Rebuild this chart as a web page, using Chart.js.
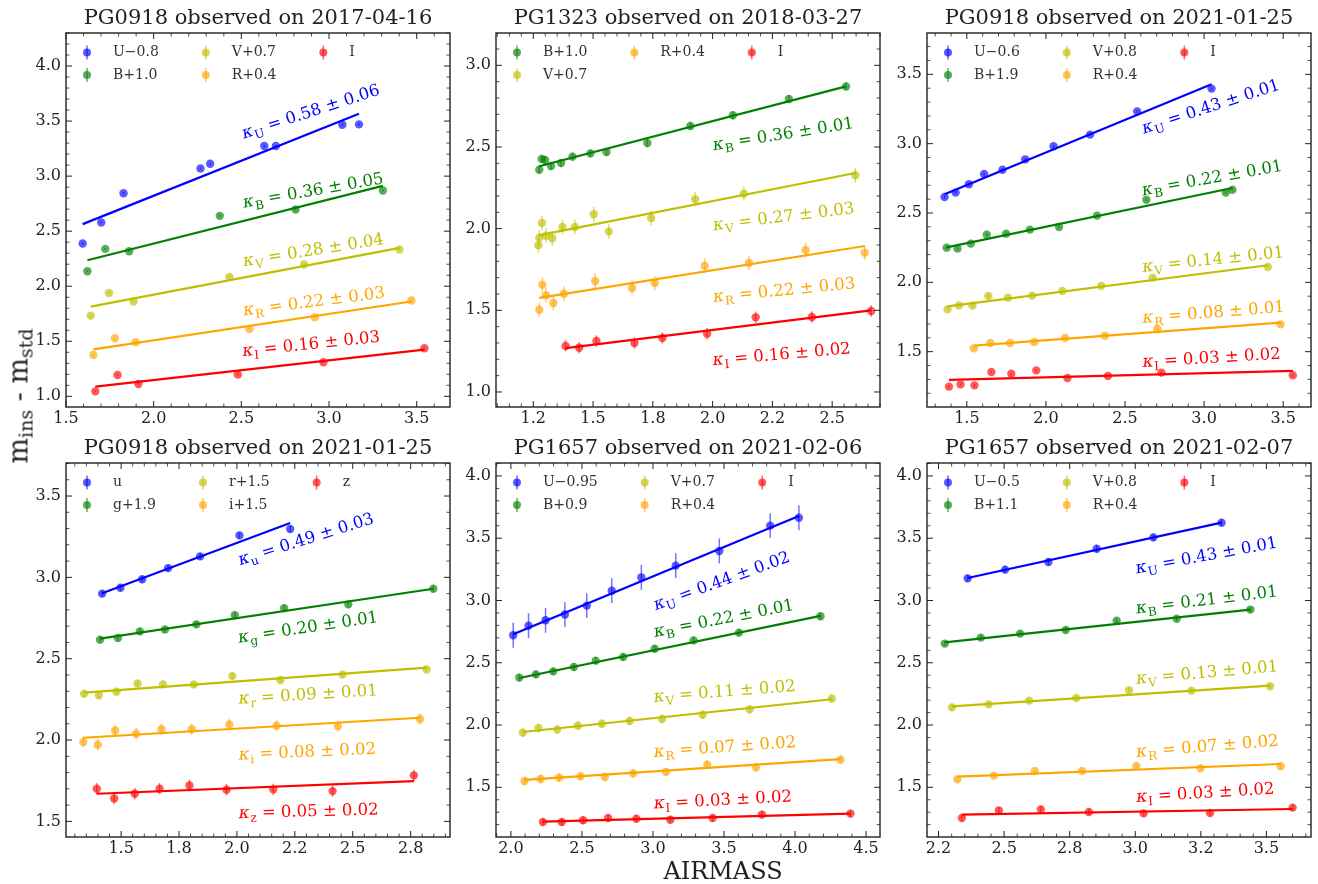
<!DOCTYPE html>
<html>
<head>
<meta charset="utf-8">
<script src="https://cdn.jsdelivr.net/npm/chart.js@4.4.1/dist/chart.umd.min.js"></script>
<style>
  html, body { margin: 0; padding: 0; background: #fff; }
  #fig { position: relative; width: 1318px; height: 884px; overflow: hidden; background: #fff; }
  #fig canvas { position: absolute; }
  .axlab { position: absolute; font-family: "DejaVu Serif", serif; color: #222; white-space: nowrap; line-height: 1; }
  #xlab { left: 723px; top: 859px; font-size: 24px; transform: translateX(-50%); }
  #ylab { left: 18px; top: 396px; font-size: 27px; transform: translate(-50%, -50%) rotate(-90deg); }
  #ylab sub { font-size: 19px; vertical-align: -5px; line-height: 0; }
</style>
</head>
<body>
<div id="fig">
  <canvas id="p1" width="454" height="446"></canvas>
  <canvas id="p2" width="454" height="446"></canvas>
  <canvas id="p3" width="454" height="446"></canvas>
  <canvas id="p4" width="454" height="446"></canvas>
  <canvas id="p5" width="454" height="446"></canvas>
  <canvas id="p6" width="454" height="446"></canvas>
  <div class="axlab" id="xlab">AIRMASS</div>
  <div class="axlab" id="ylab">m<sub>ins</sub> - m<sub>std</sub></div>
</div>
<script>
// ── panel 1: PG0918, 2017-04-16 ──
const P1_TITLE  = 'PG0918 observed on 2017-04-16';
const P1_BANDS  = ['U', 'B', 'V', 'R', 'I'];
const P1_LABELS = ['U−0.8', 'B+1.0', 'V+0.7', 'R+0.4', 'I'];
const P1_KAPPA  = ['0.58 ± 0.06', '0.36 ± 0.05', '0.28 ± 0.04', '0.22 ± 0.03', '0.16 ± 0.03'];
const P1_ERR    = [0.01, 0.01, 0.01, 0.01, 0.01];
const P1_XLIM   = [1.5, 3.69];
const P1_YLIM   = [0.903, 4.3];
const P1_XTICKS = [1.5, 2.0, 2.5, 3.0, 3.5];
const P1_XTICK_LABELS = ['1.5', '2.0', '2.5', '3.0', '3.5'];
const P1_YTICKS = [1.0, 1.5, 2.0, 2.5, 3.0, 3.5, 4.0];
const P1_U_X = [1.595, 1.701, 1.828, 2.267, 2.322, 2.631, 2.697, 3.076, 3.171];
const P1_U_Y = [2.388, 2.579, 2.845, 3.070, 3.112, 3.273, 3.273, 3.467, 3.470];
const P1_U_FIT = [2.564, 3.567];
const P1_B_X = [1.622, 1.724, 1.860, 2.377, 2.809, 3.307];
const P1_B_Y = [2.136, 2.339, 2.318, 2.639, 2.697, 2.870];
const P1_B_FIT = [2.236, 2.912];
const P1_V_X = [1.641, 1.745, 1.885, 2.432, 2.858, 3.402];
const P1_V_Y = [1.733, 1.939, 1.861, 2.085, 2.197, 2.333];
const P1_V_FIT = [1.815, 2.348];
const P1_R_X = [1.656, 1.779, 1.898, 2.546, 2.919, 3.470];
const P1_R_Y = [1.376, 1.527, 1.491, 1.612, 1.718, 1.870];
const P1_R_FIT = [1.427, 1.861];
const P1_I_X = [1.667, 1.794, 1.913, 2.480, 2.968, 3.544];
const P1_I_Y = [1.045, 1.194, 1.112, 1.197, 1.309, 1.436];
const P1_I_FIT = [1.088, 1.424];

// ── panel 2: PG1323, 2018-03-27 ──
const P2_TITLE  = 'PG1323 observed on 2018-03-27';
const P2_BANDS  = ['B', 'V', 'R', 'I'];
const P2_LABELS = ['B+1.0', 'V+0.7', 'R+0.4', 'I'];
const P2_KAPPA  = ['0.36 ± 0.01', '0.27 ± 0.03', '0.22 ± 0.03', '0.16 ± 0.02'];
const P2_ERR    = [0.025, 0.045, 0.045, 0.035];
const P2_XLIM   = [1.094, 2.700];
const P2_YLIM   = [0.908, 3.198];
const P2_XTICKS = [1.25, 1.5, 1.75, 2.0, 2.25, 2.5];
const P2_XTICK_LABELS = ['1.2', '1.5', '1.8', '2.0', '2.2', '2.5'];
const P2_YTICKS = [1.0, 1.5, 2.0, 2.5, 3.0];
const P2_B_X = [1.275, 1.285, 1.299, 1.324, 1.366, 1.414, 1.489, 1.556, 1.727, 1.907, 2.085, 2.319, 2.558];
const P2_B_Y = [2.361, 2.427, 2.420, 2.384, 2.402, 2.441, 2.461, 2.469, 2.524, 2.629, 2.694, 2.794, 2.871];
const P2_B_FIT = [2.382, 2.871];
const P2_V_X = [1.271, 1.275, 1.286, 1.303, 1.329, 1.372, 1.424, 1.503, 1.566, 1.743, 1.927, 2.131, 2.597];
const P2_V_Y = [1.898, 1.945, 2.035, 1.957, 1.941, 2.010, 2.010, 2.088, 1.982, 2.065, 2.180, 2.214, 2.327];
const P2_V_FIT = [1.959, 2.341];
const P2_R_X = [1.275, 1.288, 1.303, 1.334, 1.378, 1.509, 1.663, 1.758, 1.967, 2.152, 2.389, 2.636];
const P2_R_Y = [1.504, 1.657, 1.592, 1.545, 1.602, 1.680, 1.637, 1.667, 1.773, 1.790, 1.869, 1.853];
const P2_R_FIT = [1.576, 1.894];
const P2_I_X = [1.385, 1.442, 1.514, 1.673, 1.790, 1.977, 2.180, 2.415, 2.663];
const P2_I_Y = [1.282, 1.271, 1.312, 1.300, 1.331, 1.357, 1.457, 1.459, 1.496];
const P2_I_FIT = [1.269, 1.500];

// ── panel 3: PG0918, 2021-01-25 (UBVRI) ──
const P3_TITLE  = 'PG0918 observed on 2021-01-25';
const P3_BANDS  = ['U', 'B', 'V', 'R', 'I'];
const P3_LABELS = ['U−0.6', 'B+1.9', 'V+0.8', 'R+0.4', 'I'];
const P3_KAPPA  = ['0.43 ± 0.01', '0.22 ± 0.01', '0.14 ± 0.01', '0.08 ± 0.01', '0.03 ± 0.02'];
const P3_ERR    = [0.01, 0.01, 0.01, 0.01, 0.01];
const P3_XLIM   = [1.248, 3.676];
const P3_YLIM   = [1.101, 3.798];
const P3_XTICKS = [1.5, 2.0, 2.5, 3.0, 3.5];
const P3_XTICK_LABELS = ['1.5', '2.0', '2.5', '3.0', '3.5'];
const P3_YTICKS = [1.5, 2.0, 2.5, 3.0, 3.5];
const P3_U_X = [1.359, 1.429, 1.513, 1.609, 1.725, 1.869, 2.048, 2.279, 2.577, 3.047];
const P3_U_Y = [2.615, 2.647, 2.707, 2.781, 2.812, 2.887, 2.981, 3.065, 3.233, 3.397];
const P3_U_FIT = [2.635, 3.428];
const P3_B_X = [1.372, 1.441, 1.525, 1.626, 1.748, 1.899, 2.083, 2.323, 2.635, 3.137, 3.179];
const P3_B_Y = [2.250, 2.243, 2.279, 2.344, 2.351, 2.380, 2.399, 2.481, 2.596, 2.647, 2.668];
const P3_B_FIT = [2.252, 2.680];
const P3_V_X = [1.378, 1.450, 1.536, 1.636, 1.760, 1.913, 2.104, 2.350, 2.675, 3.403];
const P3_V_Y = [1.805, 1.834, 1.832, 1.901, 1.889, 1.904, 1.937, 1.974, 2.034, 2.111];
const P3_V_FIT = [1.827, 2.123];
const P3_R_X = [1.544, 1.649, 1.773, 1.926, 2.121, 2.373, 2.705, 3.483];
const P3_R_Y = [1.524, 1.562, 1.562, 1.570, 1.599, 1.615, 1.663, 1.697];
const P3_R_FIT = [1.543, 1.709];
const P3_I_X = [1.387, 1.460, 1.548, 1.655, 1.781, 1.939, 2.136, 2.392, 2.730, 3.561];
const P3_I_Y = [1.248, 1.264, 1.257, 1.353, 1.341, 1.365, 1.310, 1.325, 1.349, 1.329];
const P3_I_FIT = [1.296, 1.361];

// ── panel 4: PG0918, 2021-01-25 (ugriz) ──
const P4_TITLE  = 'PG0918 observed on 2021-01-25';
const P4_BANDS  = ['u', 'g', 'r', 'i', 'z'];
const P4_LABELS = ['u', 'g+1.9', 'r+1.5', 'i+1.5', 'z'];
const P4_KAPPA  = ['0.49 ± 0.03', '0.20 ± 0.01', '0.09 ± 0.01', '0.08 ± 0.02', '0.05 ± 0.02'];
const P4_ERR    = [0.02, 0.02, 0.02, 0.035, 0.035];
const P4_XLIM   = [1.262, 2.920];
const P4_YLIM   = [1.404, 3.703];
const P4_XTICKS = [1.5, 1.75, 2.0, 2.25, 2.5, 2.75];
const P4_XTICK_LABELS = ['1.5', '1.8', '2.0', '2.2', '2.5', '2.8'];
const P4_YTICKS = [1.5, 2.0, 2.5, 3.0, 3.5];
const P4_U_X = [1.418, 1.497, 1.591, 1.703, 1.841, 2.011, 2.230];
const P4_U_Y = [2.900, 2.936, 2.988, 3.057, 3.129, 3.258, 3.297];
const P4_U_FIT = [2.902, 3.334];
const P4_G_X = [1.409, 1.486, 1.581, 1.689, 1.825, 1.991, 2.204, 2.481, 2.848];
const P4_G_Y = [2.617, 2.627, 2.668, 2.680, 2.711, 2.768, 2.811, 2.834, 2.930];
const P4_G_FIT = [2.623, 2.930];
const P4_R_X = [1.340, 1.404, 1.480, 1.571, 1.681, 1.814, 1.980, 2.188, 2.456, 2.819];
const P4_R_Y = [2.285, 2.275, 2.297, 2.348, 2.342, 2.342, 2.393, 2.369, 2.402, 2.434];
const P4_R_FIT = [2.291, 2.445];
const P4_I_X = [1.337, 1.399, 1.474, 1.565, 1.674, 1.805, 1.967, 2.171, 2.436, 2.790];
const P4_I_Y = [1.988, 1.971, 2.059, 2.039, 2.066, 2.066, 2.096, 2.088, 2.084, 2.129];
const P4_I_FIT = [2.014, 2.137];
const P4_Z_X = [1.395, 1.470, 1.559, 1.666, 1.795, 1.955, 2.157, 2.413, 2.764];
const P4_Z_Y = [1.701, 1.641, 1.670, 1.701, 1.721, 1.695, 1.697, 1.686, 1.783];
const P4_Z_FIT = [1.670, 1.748];

// ── panel 5: PG1657, 2021-02-06 ──
const P5_TITLE  = 'PG1657 observed on 2021-02-06';
const P5_BANDS  = ['U', 'B', 'V', 'R', 'I'];
const P5_LABELS = ['U−0.95', 'B+0.9', 'V+0.7', 'R+0.4', 'I'];
const P5_KAPPA  = ['0.44 ± 0.02', '0.22 ± 0.01', '0.11 ± 0.02', '0.07 ± 0.02', '0.03 ± 0.02'];
const P5_ERR    = [0.10, 0.03, 0.035, 0.035, 0.03];
const P5_XLIM   = [1.895, 4.598];
const P5_YLIM   = [1.101, 4.104];
const P5_XTICKS = [2.0, 2.5, 3.0, 3.5, 4.0, 4.5];
const P5_XTICK_LABELS = ['2.0', '2.5', '3.0', '3.5', '4.0', '4.5'];
const P5_YTICKS = [1.5, 2.0, 2.5, 3.0, 3.5, 4.0];
const P5_U_X = [2.016, 2.124, 2.244, 2.380, 2.534, 2.710, 2.918, 3.160, 3.467, 3.825, 4.027];
const P5_U_Y = [2.721, 2.798, 2.841, 2.887, 2.959, 3.079, 3.186, 3.280, 3.398, 3.601, 3.665];
const P5_U_FIT = [2.729, 3.679];
const P5_B_X = [2.059, 2.176, 2.298, 2.443, 2.597, 2.790, 3.012, 3.286, 3.605, 4.179];
const P5_B_Y = [2.381, 2.407, 2.431, 2.466, 2.517, 2.547, 2.613, 2.680, 2.742, 2.873];
const P5_B_FIT = [2.378, 2.876];
const P5_V_X = [2.084, 2.194, 2.326, 2.471, 2.640, 2.836, 3.064, 3.350, 3.680, 4.259];
const P5_V_Y = [1.939, 1.976, 1.963, 1.995, 2.011, 2.033, 2.049, 2.083, 2.126, 2.212];
const P5_V_FIT = [1.944, 2.207];
const P5_R_X = [2.096, 2.209, 2.340, 2.490, 2.661, 2.860, 3.092, 3.382, 3.725, 4.320];
const P5_R_Y = [1.551, 1.567, 1.578, 1.588, 1.583, 1.612, 1.623, 1.682, 1.661, 1.722];
const P5_R_FIT = [1.559, 1.727];
const P5_I_X = [2.225, 2.358, 2.508, 2.684, 2.883, 3.122, 3.420, 3.767, 4.390];
const P5_I_Y = [1.222, 1.222, 1.235, 1.254, 1.248, 1.240, 1.254, 1.281, 1.289];
const P5_I_FIT = [1.224, 1.289];

// ── panel 6: PG1657, 2021-02-07 ──
const P6_TITLE  = 'PG1657 observed on 2021-02-07';
const P6_BANDS  = ['U', 'B', 'V', 'R', 'I'];
const P6_LABELS = ['U−0.5', 'B+1.1', 'V+0.8', 'R+0.4', 'I'];
const P6_KAPPA  = ['0.43 ± 0.01', '0.21 ± 0.01', '0.13 ± 0.01', '0.07 ± 0.02', '0.03 ± 0.02'];
const P6_ERR    = [0.03, 0.02, 0.02, 0.02, 0.025];
const P6_XLIM   = [2.206, 3.670];
const P6_YLIM   = [1.101, 4.104];
const P6_XTICKS = [2.25, 2.5, 2.75, 3.0, 3.25, 3.5];
const P6_XTICK_LABELS = ['2.2', '2.5', '2.8', '3.0', '3.2', '3.5'];
const P6_YTICKS = [1.5, 2.0, 2.5, 3.0, 3.5, 4.0];
const P6_U_X = [2.361, 2.504, 2.669, 2.853, 3.069, 3.329];
const P6_U_Y = [3.178, 3.248, 3.309, 3.416, 3.507, 3.625];
const P6_U_FIT = [3.181, 3.625];
const P6_B_X = [2.274, 2.411, 2.561, 2.735, 2.929, 3.158, 3.439];
const P6_B_Y = [2.654, 2.702, 2.734, 2.763, 2.838, 2.854, 2.927];
const P6_B_FIT = [2.664, 2.927];
const P6_V_X = [2.301, 2.441, 2.595, 2.775, 2.976, 3.214, 3.514];
const P6_V_Y = [2.142, 2.166, 2.196, 2.217, 2.279, 2.276, 2.311];
const P6_V_FIT = [2.150, 2.316];
const P6_R_X = [2.322, 2.461, 2.617, 2.797, 3.004, 3.249, 3.554];
const P6_R_Y = [1.564, 1.594, 1.631, 1.631, 1.671, 1.653, 1.669];
const P6_R_FIT = [1.586, 1.687];
const P6_I_X = [2.339, 2.480, 2.640, 2.823, 3.032, 3.285, 3.600];
const P6_I_Y = [1.254, 1.315, 1.323, 1.302, 1.291, 1.294, 1.337];
const P6_I_FIT = [1.280, 1.326];

// ── placement of the kappa labels: [x, y (data), angle in degrees] ──
const P1_NOTES = [[2.514, 3.339, 18], [2.514, 2.712, 10], [2.514, 2.182, 9], [2.514, 1.733, 7.3], [2.508, 1.364, 6]];
const P2_NOTES = [[2.004, 2.480, 9], [2.004, 1.990, 7], [2.004, 1.551, 5.5], [2.002, 1.163, 5]];
const P3_NOTES = [[2.619, 3.072, 18], [2.612, 2.627, 10], [2.612, 2.075, 6], [2.612, 1.707, 4.5], [2.612, 1.389, 3.5]];
const P4_NOTES = [[2.013, 3.074, 17.5], [2.008, 2.598, 8.5], [2.008, 2.223, 3.5], [2.008, 1.879, 2.5], [2.008, 1.520, 1.5]];
const P5_NOTES = [[3.019, 2.921, 20], [3.012, 2.707, 11], [3.007, 2.185, 4.5], [3.007, 1.744, 4], [3.007, 1.329, 3]];
const P6_NOTES = [[3.005, 3.216, 10.5], [3.005, 2.895, 7], [3.005, 2.332, 5], [3.005, 1.744, 4.5], [3.005, 1.382, 3.5]];

// ── styling ──
const SERIF = '"DejaVu Serif", serif';
const INK = '#222';
const COLOR = {
  U: [0, 0, 255], u: [0, 0, 255],
  B: [0, 128, 0], g: [0, 128, 0],
  V: [191, 191, 0], r: [191, 191, 0],
  R: [255, 165, 0], i: [255, 165, 0],
  I: [255, 0, 0], z: [255, 0, 0],
};
const AX = [[66, 33], [496, 33], [927, 33], [66, 463], [496, 463], [927, 463]];
const PAD_L = 60, PAD_T = 40, PAD_R = 10, PAD_B = 32;

function rgba(c, a) { return 'rgba(' + c.join(',') + ',' + a + ')'; }

const PANELS = [
  { title: P1_TITLE, bands: P1_BANDS, labels: P1_LABELS, kappa: P1_KAPPA, err: P1_ERR, notes: P1_NOTES,
    xlim: P1_XLIM, ylim: P1_YLIM, xticks: P1_XTICKS, xlabels: P1_XTICK_LABELS, yticks: P1_YTICKS, xminor: 0.1,
    xs: [P1_U_X, P1_B_X, P1_V_X, P1_R_X, P1_I_X], ys: [P1_U_Y, P1_B_Y, P1_V_Y, P1_R_Y, P1_I_Y],
    fits: [P1_U_FIT, P1_B_FIT, P1_V_FIT, P1_R_FIT, P1_I_FIT] },
  { title: P2_TITLE, bands: P2_BANDS, labels: P2_LABELS, kappa: P2_KAPPA, err: P2_ERR, notes: P2_NOTES,
    xlim: P2_XLIM, ylim: P2_YLIM, xticks: P2_XTICKS, xlabels: P2_XTICK_LABELS, yticks: P2_YTICKS, xminor: 0.05,
    xs: [P2_B_X, P2_V_X, P2_R_X, P2_I_X], ys: [P2_B_Y, P2_V_Y, P2_R_Y, P2_I_Y],
    fits: [P2_B_FIT, P2_V_FIT, P2_R_FIT, P2_I_FIT] },
  { title: P3_TITLE, bands: P3_BANDS, labels: P3_LABELS, kappa: P3_KAPPA, err: P3_ERR, notes: P3_NOTES,
    xlim: P3_XLIM, ylim: P3_YLIM, xticks: P3_XTICKS, xlabels: P3_XTICK_LABELS, yticks: P3_YTICKS, xminor: 0.1,
    xs: [P3_U_X, P3_B_X, P3_V_X, P3_R_X, P3_I_X], ys: [P3_U_Y, P3_B_Y, P3_V_Y, P3_R_Y, P3_I_Y],
    fits: [P3_U_FIT, P3_B_FIT, P3_V_FIT, P3_R_FIT, P3_I_FIT] },
  { title: P4_TITLE, bands: P4_BANDS, labels: P4_LABELS, kappa: P4_KAPPA, err: P4_ERR, notes: P4_NOTES,
    xlim: P4_XLIM, ylim: P4_YLIM, xticks: P4_XTICKS, xlabels: P4_XTICK_LABELS, yticks: P4_YTICKS, xminor: 0.05,
    xs: [P4_U_X, P4_G_X, P4_R_X, P4_I_X, P4_Z_X], ys: [P4_U_Y, P4_G_Y, P4_R_Y, P4_I_Y, P4_Z_Y],
    fits: [P4_U_FIT, P4_G_FIT, P4_R_FIT, P4_I_FIT, P4_Z_FIT] },
  { title: P5_TITLE, bands: P5_BANDS, labels: P5_LABELS, kappa: P5_KAPPA, err: P5_ERR, notes: P5_NOTES,
    xlim: P5_XLIM, ylim: P5_YLIM, xticks: P5_XTICKS, xlabels: P5_XTICK_LABELS, yticks: P5_YTICKS, xminor: 0.1,
    xs: [P5_U_X, P5_B_X, P5_V_X, P5_R_X, P5_I_X], ys: [P5_U_Y, P5_B_Y, P5_V_Y, P5_R_Y, P5_I_Y],
    fits: [P5_U_FIT, P5_B_FIT, P5_V_FIT, P5_R_FIT, P5_I_FIT] },
  { title: P6_TITLE, bands: P6_BANDS, labels: P6_LABELS, kappa: P6_KAPPA, err: P6_ERR, notes: P6_NOTES,
    xlim: P6_XLIM, ylim: P6_YLIM, xticks: P6_XTICKS, xlabels: P6_XTICK_LABELS, yticks: P6_YTICKS, xminor: 0.05,
    xs: [P6_U_X, P6_B_X, P6_V_X, P6_R_X, P6_I_X], ys: [P6_U_Y, P6_B_Y, P6_V_Y, P6_R_Y, P6_I_Y],
    fits: [P6_U_FIT, P6_B_FIT, P6_V_FIT, P6_R_FIT, P6_I_FIT] },
];

// minor tick positions between the majors
function minorValues(lim, step, majors) {
  const out = [];
  const start = Math.ceil(lim[0] / step - 1e-9);
  for (let k = start; k * step <= lim[1] + 1e-9; k++) {
    const v = k * step;
    if (!majors.some(m => Math.abs(m - v) < step / 4)) out.push(v);
  }
  return out;
}

function line(ctx, x0, y0, x1, y1) {
  ctx.beginPath(); ctx.moveTo(x0, y0); ctx.lineTo(x1, y1); ctx.stroke();
}

// box with inward ticks on all four sides
function drawFrame(ctx, a, sx, sy, p) {
  ctx.save();
  ctx.strokeStyle = INK;
  ctx.lineWidth = 1;
  const xTick = (v, len) => { const px = sx.getPixelForValue(v); line(ctx, px, a.bottom, px, a.bottom - len); line(ctx, px, a.top, px, a.top + len); };
  const yTick = (v, len) => { const py = sy.getPixelForValue(v); line(ctx, a.left, py, a.left + len, py); line(ctx, a.right, py, a.right - len, py); };
  p.xticks.forEach(v => xTick(v, 6));
  p.yticks.forEach(v => yTick(v, 6));
  ctx.lineWidth = 0.8;
  minorValues(p.xlim, p.xminor, p.xticks).forEach(v => xTick(v, 3.5));
  minorValues(p.ylim, 0.1, p.yticks).forEach(v => yTick(v, 3.5));
  ctx.lineWidth = 1.4;
  ctx.strokeRect(a.left, a.top, a.right - a.left, a.bottom - a.top);
  ctx.restore();
}

// panel title centred over the axes box
function drawTitle(ctx, a, p) {
  ctx.save();
  ctx.font = '21px ' + SERIF;
  ctx.fillStyle = INK;
  ctx.textAlign = 'center';
  ctx.textBaseline = 'middle';
  ctx.fillText(p.title, (a.left + a.right) / 2, a.top - 14);
  ctx.restore();
}

// legend laid out column-first, 3 columns, like matplotlib
function drawLegend(ctx, a, p) {
  ctx.save();
  ctx.font = '14px ' + SERIF;
  ctx.textBaseline = 'middle';
  const n = p.labels.length, ncol = 3;
  const rows = Math.floor(n / ncol), big = n % ncol;
  let k = 0, cx = a.left + 21;
  for (let c = 0; c < ncol; c++) {
    const cnt = rows + (c < big ? 1 : 0);
    let wmax = 0;
    for (let r = 0; r < cnt; r++, k++) {
      const col = COLOR[p.bands[k]];
      const cy = a.top + 19.6 + r * 22.4;
      ctx.strokeStyle = rgba(col, 0.6);
      ctx.lineWidth = 1.5;
      line(ctx, cx, cy - 7, cx, cy + 7);
      ctx.fillStyle = rgba(col, 0.65);
      ctx.beginPath(); ctx.arc(cx, cy, 4, 0, Math.PI * 2); ctx.fill();
      ctx.fillStyle = '#333';
      ctx.fillText(p.labels[k], cx + 26, cy);
      wmax = Math.max(wmax, ctx.measureText(p.labels[k]).width);
    }
    cx += 26 + wmax + 47;
  }
  ctx.restore();
}

// rotated "κ_X = a ± b" labels
function drawNotes(ctx, sx, sy, p) {
  p.notes.forEach((nt, k) => {
    ctx.save();
    ctx.translate(sx.getPixelForValue(nt[0]), sy.getPixelForValue(nt[1]));
    ctx.rotate(-nt[2] * Math.PI / 180);
    ctx.fillStyle = rgba(COLOR[p.bands[k]], 1);
    ctx.textBaseline = 'alphabetic';
    ctx.font = 'italic 17px ' + SERIF;
    ctx.fillText('κ', 0, 0);
    let w = ctx.measureText('κ').width + 0.5;
    ctx.font = '12px ' + SERIF;
    ctx.fillText(p.bands[k], w, 4);
    w += ctx.measureText(p.bands[k]).width;
    ctx.font = '16.5px ' + SERIF;
    ctx.fillText(' = ' + p.kappa[k], w, 0);
    ctx.restore();
  });
}

function panelPlugin(p) {
  return {
    id: 'mplPanel',
    beforeDatasetsDraw(chart) {
      // vertical error bars under the markers
      const { ctx, scales: { x, y } } = chart;
      ctx.save();
      ctx.lineWidth = 1.5;
      p.bands.forEach((b, k) => {
        ctx.strokeStyle = rgba(COLOR[b], 0.55);
        p.xs[k].forEach((xv, j) => {
          const px = x.getPixelForValue(xv);
          line(ctx, px, y.getPixelForValue(p.ys[k][j] - p.err[k]), px, y.getPixelForValue(p.ys[k][j] + p.err[k]));
        });
      });
      ctx.restore();
    },
    afterDraw(chart) {
      const { ctx, chartArea, scales: { x, y } } = chart;
      drawNotes(ctx, x, y, p);
      drawLegend(ctx, chartArea, p);
      drawFrame(ctx, chartArea, x, y, p);
      drawTitle(ctx, chartArea, p);
    },
  };
}

function buildPanel(p, idx) {
  const canvas = document.getElementById('p' + (idx + 1));
  canvas.style.left = (AX[idx][0] - PAD_L) + 'px';
  canvas.style.top = (AX[idx][1] - PAD_T) + 'px';

  const datasets = [];
  p.bands.forEach((b, k) => {
    const xs = p.xs[k];
    datasets.push({
      label: p.labels[k],
      data: xs.map((xv, j) => ({ x: xv, y: p.ys[k][j] })),
      backgroundColor: rgba(COLOR[b], 0.65),
      borderWidth: 0, pointRadius: 4.2, pointHoverRadius: 4.2,
      showLine: false, order: 1,
    });
    datasets.push({
      label: p.labels[k] + ' fit',
      data: [{ x: Math.min(...xs), y: p.fits[k][0] }, { x: Math.max(...xs), y: p.fits[k][1] }],
      borderColor: rgba(COLOR[b], 1), borderWidth: 2.2,
      pointRadius: 0, showLine: true, fill: false, tension: 0, order: 0,
    });
  });

  const tickFont = { family: SERIF, size: 16 };
  return new Chart(canvas, {
    type: 'scatter',
    data: { datasets },
    options: {
      responsive: false, animation: false, events: [],
      layout: { padding: { left: 0, right: PAD_R, top: PAD_T, bottom: 0 } },
      plugins: {
        legend: { display: false },
        tooltip: { enabled: false },
        title: { display: false },
      },
      scales: {
        x: {
          type: 'linear', position: 'bottom', min: p.xlim[0], max: p.xlim[1],
          grid: { display: false, drawTicks: false }, border: { display: false },
          afterBuildTicks: s => { s.ticks = p.xticks.map(v => ({ value: v })); },
          afterFit: s => { s.height = PAD_B; },
          ticks: { autoSkip: false, maxRotation: 0, padding: 2, color: INK, font: tickFont,
                   callback: (v, i) => p.xlabels[i] },
        },
        y: {
          type: 'linear', position: 'left', min: p.ylim[0], max: p.ylim[1],
          grid: { display: false, drawTicks: false }, border: { display: false },
          afterBuildTicks: s => { s.ticks = p.yticks.map(v => ({ value: v })); },
          afterFit: s => { s.width = PAD_L; },
          ticks: { autoSkip: false, padding: 5, color: INK, font: tickFont,
                   callback: v => v.toFixed(1) },
        },
      },
    },
    plugins: [panelPlugin(p)],
  });
}

PANELS.forEach(buildPanel);
</script>
</body>
</html>
